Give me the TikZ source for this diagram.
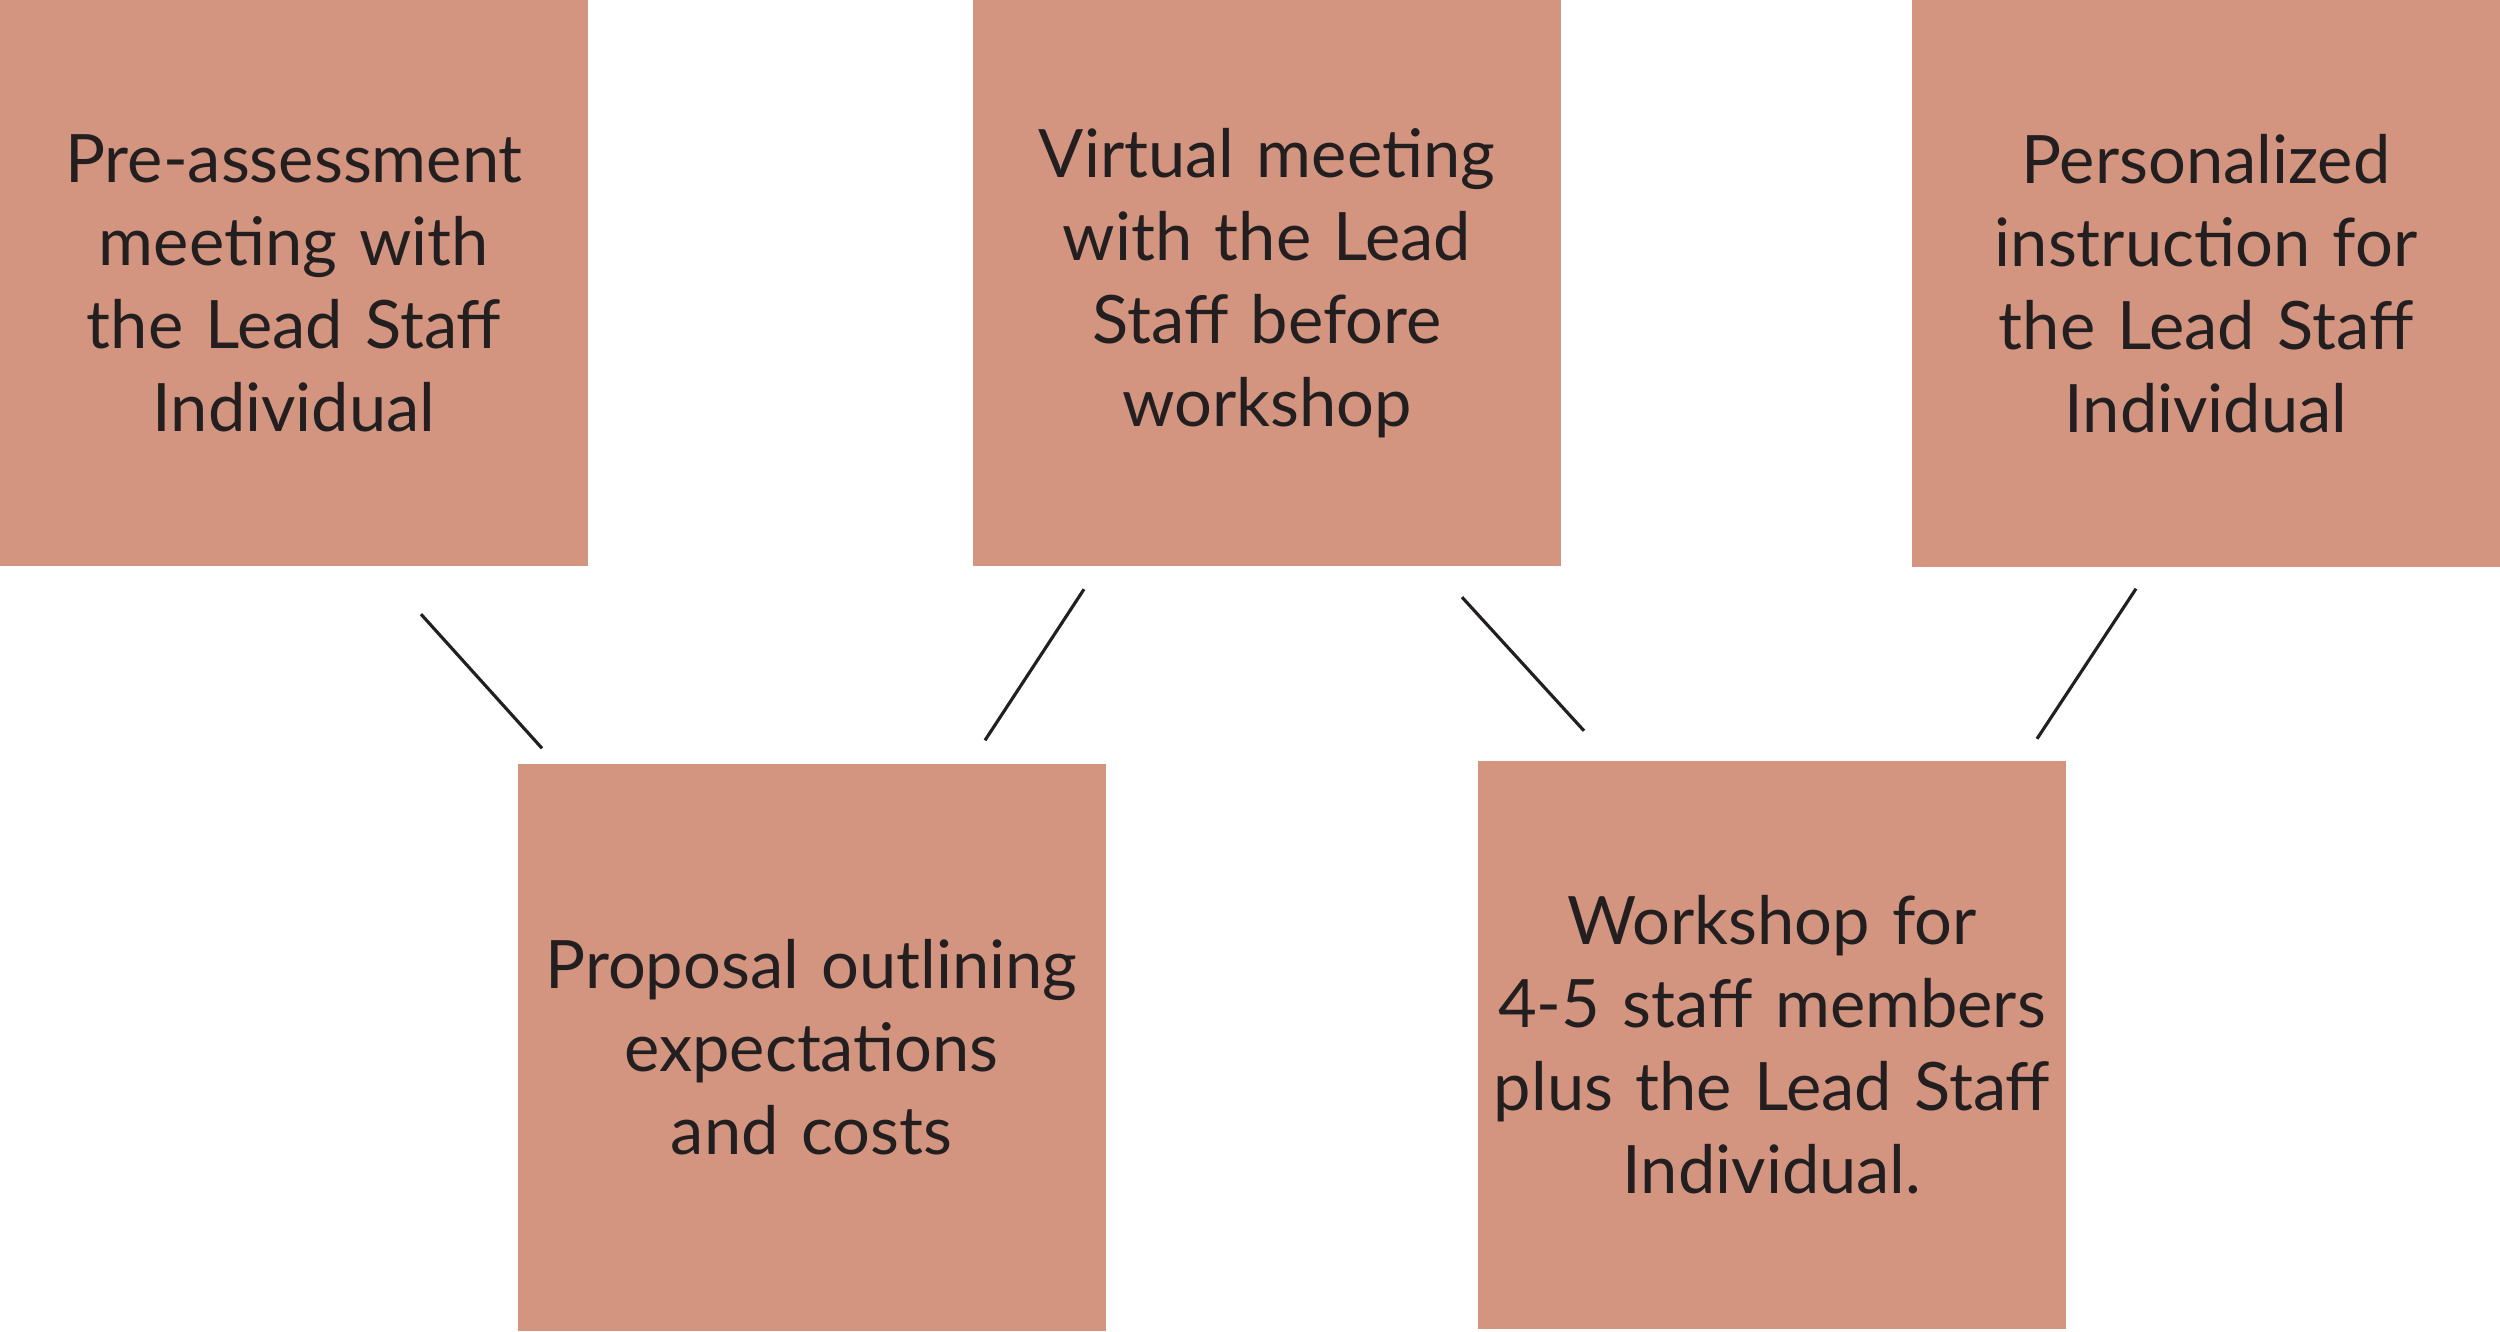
\documentclass[tikz,border=0pt]{standalone}
\usepackage{fontspec}
\setmainfont{Lato}
\usetikzlibrary{positioning, calc}
\definecolor{clay}{HTML}{D3957F}
\definecolor{inkdark}{HTML}{231F20}

\begin{document}
\begin{tikzpicture}[
  stage/.style={fill=clay, draw=none, minimum width=5.88cm, minimum height=5.67cm,
    inner sep=0pt, text width=5.85cm, align=center, text=inkdark,
    font=\fontsize{19}{23.6}\selectfont},
  link/.style={draw=inkdark, line width=0.9pt},
]

% Canvas
\useasboundingbox (0,0) rectangle (25,-13.32);

% === Top row ===
\node[stage] (pre)  at (2.94,-2.83)  {Pre-assessment\\meeting with\\the Lead Staff\\Individual};
\node[stage] (virt) at (12.67,-2.83) {Virtual meeting\\with the Lead\\Staff before\\workshop};
\node[stage] (pers) at (22.06,-2.835) {Personalized\\instruction for\\the Lead Staff\\Individual};

% === Bottom row ===
\node[stage] (prop) at (8.115,-10.475) {Proposal outlining\\expectations\\and costs};
\node[stage] (work) at (17.72,-10.45)  {Workshop for\\4-5 staff members\\plus the Lead Staff\\Individual.};

% Line ends (the links stop short of the boxes)
\coordinate (l1a) at ($(pre.south)+(1.27,-0.47)$);
\coordinate (l1b) at ($(prop.north)+(-2.695,0.15)$);
\coordinate (l2a) at ($(virt.south)+(-1.83,-0.22)$);
\coordinate (l2b) at ($(prop.north)+(1.735,0.23)$);
\coordinate (l3a) at ($(virt.south)+(1.95,-0.30)$);
\coordinate (l3b) at ($(work.north)+(-1.88,0.30)$);
\coordinate (l4a) at ($(pers.south)+(-0.70,-0.21)$);
\coordinate (l4b) at ($(work.north)+(2.65,0.22)$);

% Links
\draw[link] (l1a) -- (l1b);
\draw[link] (l2a) -- (l2b);
\draw[link] (l3a) -- (l3b);
\draw[link] (l4a) -- (l4b);

\end{tikzpicture}
\end{document}
